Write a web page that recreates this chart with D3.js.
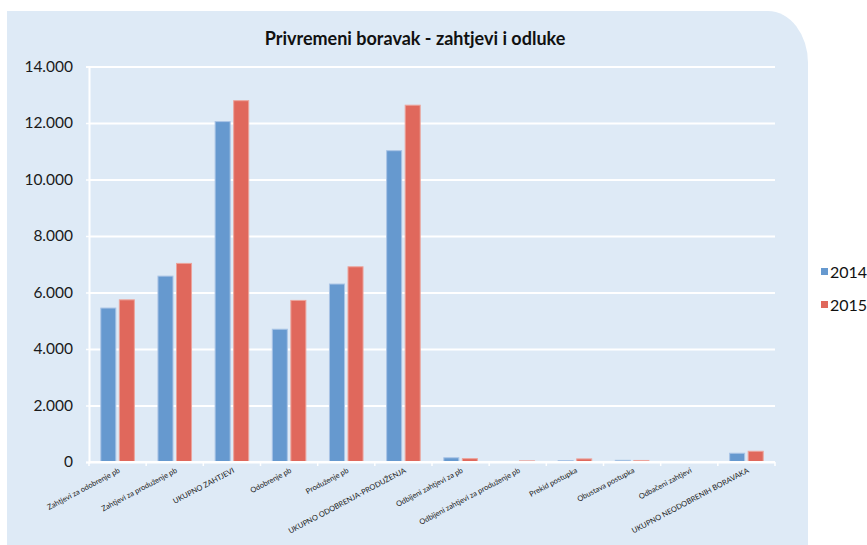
<!DOCTYPE html>
<html>
<head>
<meta charset="utf-8">
<script src="https://cdn.jsdelivr.net/npm/d3@7"></script>
<style>
  body { margin: 0; background: #fff; }
  svg { display: block; }
</style>
</head>
<body>
<div id="chart"></div>
<script>
const categories = [
  "Zahtjevi za odobrenje pb",
  "Zahtjevi za produženje pb",
  "UKUPNO ZAHTJEVI",
  "Odobrenje pb",
  "Produženje pb",
  "UKUPNO ODOBRENJA-PRODUŽENJA",
  "Odbijeni zahtjevi za pb",
  "Odbijeni zahtjevi za produženje pb",
  "Prekid postupka",
  "Obustava postupka",
  "Odbačeni zahtjevi",
  "UKUPNO NEODOBRENIH BORAVAKA"
];
const seriesNames = ["2014", "2015"];
const values2014 = [5450, 6580, 12050, 4700, 6300, 11020, 150, 15, 50, 60, 10, 310];
const values2015 = [5740, 7030, 12790, 5720, 6910, 12630, 120, 40, 110, 55, 15, 380];
const yTicks = [0, 2000, 4000, 6000, 8000, 10000, 12000, 14000];
const colors = ["#6699cf", "#e0685c"];
const strokes = ["#a9c4e6", "#eca49c"];

const width = 867, height = 545;
const plot = { left: 89, right: 775, top: 66.5, bottom: 462 };

const svg = d3.select("#chart").append("svg")
  .attr("width", width)
  .attr("height", height);

// panel with rounded top-right corner
svg.append("path")
  .attr("d", "M7,11 H768 A40,52 0 0 1 808,63 V545 H7 Z")
  .attr("fill", "#deeaf6");

svg.append("text")
  .attr("x", 415)
  .attr("y", 45)
  .attr("text-anchor", "middle")
  .style("font-family", "Lato, 'Open Sans', sans-serif")
  .style("font-size", "18px")
  .style("font-weight", "bold")
  .style("fill", "#111")
  .text("Privremeni boravak - zahtjevi i odluke");

const x = d3.scaleBand()
  .domain(categories)
  .range([plot.left, plot.right]);

const xSub = d3.scaleBand()
  .domain(seriesNames)
  .range([11.8, x.bandwidth() - 11.8])
  .paddingInner(0.19);

const y = d3.scaleLinear()
  .domain([0, 14000])
  .range([plot.bottom, plot.top]);

// gridlines
svg.append("g")
  .attr("transform", `translate(${plot.left},0)`)
  .call(d3.axisLeft(y).tickValues(yTicks).tickSize(-(plot.right - plot.left)).tickFormat(""))
  .call(g => g.select(".domain").remove())
  .call(g => g.selectAll(".tick line").attr("stroke", "#ffffff").attr("stroke-width", 2));

// y axis
svg.append("g")
  .attr("transform", `translate(${plot.left},0)`)
  .call(d3.axisLeft(y).tickValues(yTicks).tickSize(3).tickPadding(13)
    .tickFormat(d => d3.format(",")(d).replace(/,/g, ".")))
  .call(g => g.select(".domain").attr("stroke", "#ffffff").attr("stroke-width", 2))
  .call(g => g.selectAll(".tick line").attr("stroke", "#ffffff").attr("stroke-width", 1.5))
  .call(g => g.selectAll(".tick text")
    .style("font-family", "Lato, 'Open Sans', sans-serif")
    .style("font-size", "15.5px")
    .style("fill", "#1a1a1a"));

// bars
const table = categories.map((c, i) => ({ cat: c, vals: [values2014[i], values2015[i]] }));

const groups = svg.selectAll(".grp")
  .data(table)
  .enter()
  .append("g")
  .attr("class", "grp")
  .attr("transform", d => `translate(${x(d.cat)},0)`);

groups.selectAll("rect")
  .data(d => d.vals.map((v, k) => ({ key: seriesNames[k], v: v, k: k })))
  .enter()
  .append("rect")
  .attr("x", d => xSub(d.key))
  .attr("y", d => y(d.v))
  .attr("width", xSub.bandwidth())
  .attr("height", d => y(0) - y(d.v))
  .attr("fill", d => colors[d.k])
  .attr("stroke", d => strokes[d.k])
  .attr("stroke-width", 1);

// x axis line and boundary ticks
svg.append("line")
  .attr("x1", plot.left).attr("x2", plot.right)
  .attr("y1", y(0)).attr("y2", y(0))
  .attr("stroke", "#ffffff").attr("stroke-width", 2);

const bounds = categories.map(c => x(c)).concat([x.range()[1]]);
svg.selectAll(".xtick")
  .data(bounds)
  .enter()
  .append("line")
  .attr("class", "xtick")
  .attr("x1", d => d).attr("x2", d => d)
  .attr("y1", y(0)).attr("y2", y(0) + 4)
  .attr("stroke", "#ffffff").attr("stroke-width", 1.5);

// x labels
svg.selectAll(".xlabel")
  .data(categories)
  .enter()
  .append("text")
  .attr("class", "xlabel")
  .attr("text-anchor", "end")
  .attr("transform", d => `translate(${x(d) + x.bandwidth() / 2 + 3},${y(0) + 10}) rotate(-28)`)
  .style("font-family", "Lato, 'Open Sans', sans-serif")
  .style("font-size", "7.5px")
  .style("fill", "#222")
  .text(d => d);

// legend
const legend = svg.selectAll(".legend")
  .data(seriesNames)
  .enter()
  .append("g")
  .attr("class", "legend")
  .attr("transform", (d, i) => `translate(821,${268 + i * 33})`);

legend.append("rect")
  .attr("width", 7).attr("height", 7)
  .attr("fill", (d, i) => colors[i]);

legend.append("text")
  .attr("x", 9)
  .attr("y", 10)
  .style("font-family", "Lato, 'Open Sans', sans-serif")
  .style("font-size", "16px")
  .style("fill", "#111")
  .text(d => d);
</script>
</body>
</html>
